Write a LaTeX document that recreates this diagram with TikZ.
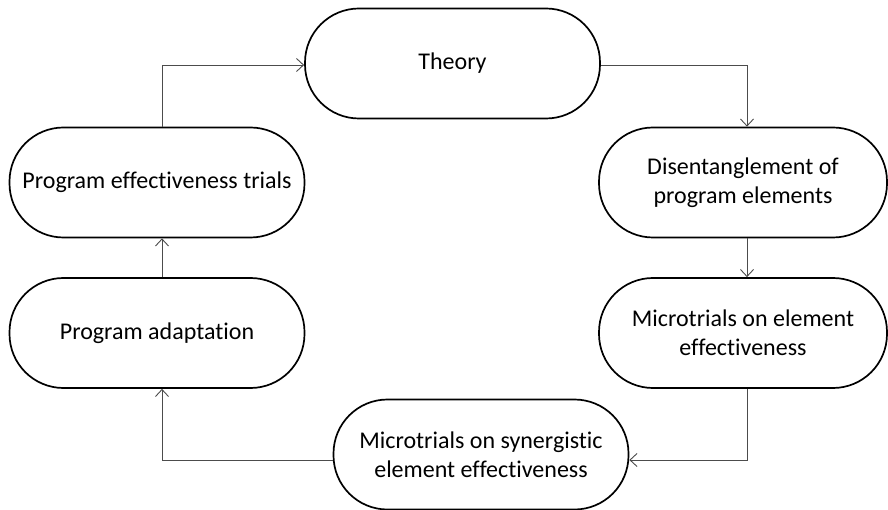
\documentclass[tikz,border=0pt]{standalone}
\usepackage{fontspec}
\setmainfont[Ligatures=NoCommon]{Carlito}
\usetikzlibrary{arrows.meta}
\begin{document}
\begin{tikzpicture}[x=1pt,y=-1pt,
  stage/.style={draw=black, line width=1.7pt, rounded corners=54pt, minimum height=110pt,
    minimum width=295pt, align=center, font=\fontsize{24}{29}\selectfont, inner sep=0pt},
  arr/.style={draw=black!70, line width=0.9pt, -{Straight Barb[length=7pt,width=13pt,line width=0.9pt]}}]
\useasboundingbox (0,0) rectangle (888,510);
\node[stage] (theory) at (452.5,63.5) {Theory};
\node[stage, minimum width=288pt] (dis) at (743,182.5) {Disentanglement of\\program elements};
\node[stage, minimum width=288pt] (mel) at (743,333) {Microtrials on element\\effectiveness};
\node[stage] (syn) at (481,454.5) {Microtrials on synergistic\\element effectiveness};
\node[stage] (pad) at (157,333) {Program adaptation};
\node[stage] (pet) at (157,182.5) {Program effectiveness trials};
\coordinate (xl) at (162,0);
\coordinate (xr) at (747,0);
\coordinate (yb) at (0,460);
\coordinate (yt) at (0,65);
\draw[arr] (pet.north -| xl) |- (theory.west |- yt);
\draw[arr] (theory.east |- yt) -| (dis.north -| xr);
\draw[arr] (dis.south -| xr) -- (mel.north -| xr);
\draw[arr] (mel.south -| xr) |- (syn.east |- yb);
\draw[arr] (syn.west |- yb) -| (pad.south -| xl);
\draw[arr] (pad.north -| xl) -- (pet.south -| xl);
\end{tikzpicture}
\end{document}
